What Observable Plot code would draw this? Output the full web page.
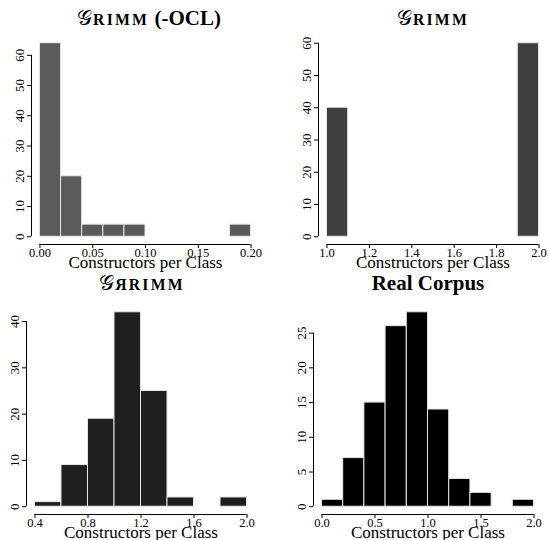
<!DOCTYPE html>
<html>
<head>
<meta charset="utf-8">
<script src="https://cdn.jsdelivr.net/npm/d3@7"></script>
<script src="https://cdn.jsdelivr.net/npm/@observablehq/plot@0.6"></script>
<style>
  body { margin: 0; background: #fff; }
  #root { position: relative; width: 549px; height: 540px; overflow: hidden; font-family: "Liberation Serif", "Times New Roman", serif; }
  .panel { position: absolute; width: 274px; height: 270px; }
  .panel svg, .panel svg text { font-family: "Liberation Serif", "Times New Roman", serif !important; }
  .title { position: absolute; width: 300px; text-align: center; font-family: "Liberation Serif", serif; font-weight: bold; font-size: 21px; white-space: nowrap; line-height: 1; color: #000; }
  .sc { font-size: 0.75em; letter-spacing: 2.2px; }
  .g { font-weight: normal; font-style: normal; margin-right: 1px; }
</style>
</head>
<body>
<div id="root"></div>
<script>
// ---- data ----
const xLabel = "Constructors per Class";

const titles = ["𝒢RIMM (-OCL)", "𝒢RIMM", "𝒢ЯRIMM", "Real Corpus"];

// panel 1: GRIMM (-OCL)
const p1BinStart = [0.00, 0.02, 0.04, 0.06, 0.08, 0.10, 0.12, 0.14, 0.16, 0.18];
const p1Counts   = [64, 20, 4, 4, 4, 0, 0, 0, 0, 4];
const p1BinWidth = 0.02;
const p1YTicks = [0, 10, 20, 30, 40, 50, 60];
const p1XTicks = [0.00, 0.05, 0.10, 0.15, 0.20];
const p1XTickLabels = ["0.00", "0.05", "0.10", "0.15", "0.20"];

// panel 2: GRIMM
const p2BinStart = [1.0, 1.1, 1.2, 1.3, 1.4, 1.5, 1.6, 1.7, 1.8, 1.9];
const p2Counts   = [40, 0, 0, 0, 0, 0, 0, 0, 0, 60];
const p2BinWidth = 0.1;
const p2YTicks = [0, 10, 20, 30, 40, 50, 60];
const p2XTicks = [1.0, 1.2, 1.4, 1.6, 1.8, 2.0];
const p2XTickLabels = ["1.0", "1.2", "1.4", "1.6", "1.8", "2.0"];

// panel 3: GЯRIMM
const p3BinStart = [0.4, 0.6, 0.8, 1.0, 1.2, 1.4, 1.6, 1.8];
const p3Counts   = [1, 9, 19, 42, 25, 2, 0, 2];
const p3BinWidth = 0.2;
const p3YTicks = [0, 10, 20, 30, 40];
const p3XTicks = [0.4, 0.8, 1.2, 1.6, 2.0];
const p3XTickLabels = ["0.4", "0.8", "1.2", "1.6", "2.0"];

// panel 4: Real Corpus
const p4BinStart = [0.0, 0.2, 0.4, 0.6, 0.8, 1.0, 1.2, 1.4, 1.6, 1.8];
const p4Counts   = [1, 7, 15, 26, 28, 14, 4, 2, 0, 1];
const p4BinWidth = 0.2;
const p4YTicks = [0, 5, 10, 15, 20, 25];
const p4XTicks = [0.0, 0.5, 1.0, 1.5, 2.0];
const p4XTickLabels = ["0.0", "0.5", "1.0", "1.5", "2.0"];

// ---- layout/styles ----
const panels = [
  {left: 0,   top: 0,   ml: 31, mr: 15, mt: 35, mb: 26, fill: "#5a5a5a", titleHtml: '<span class="g">𝒢</span><span class="sc">RIMM</span> (-OCL)', tx: 149, ty: 7.5,
   bins: p1BinStart, counts: p1Counts, bw: p1BinWidth, yt: p1YTicks, xt: p1XTicks, xl: p1XTickLabels},
  {left: 275, top: 0,   ml: 43, mr: 2,  mt: 35, mb: 26, fill: "#3f3f3f", titleHtml: '<span class="g">𝒢</span><span class="sc">RIMM</span>', tx: 433, ty: 7.5,
   bins: p2BinStart, counts: p2Counts, bw: p2BinWidth, yt: p2YTicks, xt: p2XTicks, xl: p2XTickLabels},
  {left: 0,   top: 270, ml: 26, mr: 19, mt: 34, mb: 26, fill: "#1f1f1f", titleHtml: '<span class="g">𝒢</span><span class="sc">ЯRIMM</span>', tx: 142, ty: 273,
   bins: p3BinStart, counts: p3Counts, bw: p3BinWidth, yt: p3YTicks, xt: p3XTicks, xl: p3XTickLabels},
  {left: 275, top: 270, ml: 38, mr: 7,  mt: 34, mb: 26, fill: "#000000", titleHtml: 'Real Corpus', tx: 428, ty: 273,
   bins: p4BinStart, counts: p4Counts, bw: p4BinWidth, yt: p4YTicks, xt: p4XTicks, xl: p4XTickLabels}
];

const root = document.getElementById("root");
const W = 274, H = 270;
const FONT = "Liberation Serif";

panels.forEach((p, i) => {
  const rows = p.bins.map((b, k) => ({x1: b, x2: +(b + p.bw).toFixed(6), y: p.counts[k]})).filter(r => r.y > 0);
  const xmin = p.bins[0], xmax = +(p.bins[p.bins.length - 1] + p.bw).toFixed(6);
  const ymax = d3.max(p.counts);
  const xr = xmax - xmin;
  const xlo = xmin - 0.04 * xr, xhi = xmax + 0.04 * xr;
  const ylo = -0.04 * ymax, yhi = 1.04 * ymax;
  const plotW = W - p.ml - p.mr, plotH = H - p.mt - p.mb;
  const xpx = (xhi - xlo) / plotW; // data units per px
  const ypx = (yhi - ylo) / plotH;
  const tick = 4;

  const chart = Plot.plot({
    width: W, height: H,
    marginLeft: p.ml, marginRight: p.mr, marginTop: p.mt, marginBottom: p.mb,
    style: "font-family: 'Liberation Serif', serif; background: transparent; overflow: visible;",
    x: {domain: [xlo, xhi], axis: null},
    y: {domain: [ylo, yhi], axis: null},
    marks: [
      Plot.rectY(rows, {x1: "x1", x2: "x2", y1: 0, y2: "y", fill: p.fill, stroke: "#e6e6e6", strokeWidth: 1}),
      // y axis
      Plot.ruleX([xlo], {y1: p.yt[0], y2: p.yt[p.yt.length - 1], stroke: "#000", strokeWidth: 1}),
      Plot.ruleY(p.yt, {y: d => d, x1: xlo - tick * xpx, x2: xlo, stroke: "#000", strokeWidth: 1}),
      Plot.text(p.yt, {x: () => xlo, y: d => d, text: d => String(d), rotate: -90, dx: -7.5, textAnchor: "middle", lineAnchor: "bottom", fontSize: 13, fontFamily: FONT, fill: "#000"}),
      // x axis
      Plot.ruleY([ylo], {x1: p.xt[0], x2: p.xt[p.xt.length - 1], stroke: "#000", strokeWidth: 1}),
      Plot.ruleX(p.xt, {x: d => d, y1: ylo, y2: ylo - tick * ypx, stroke: "#000", strokeWidth: 1}),
      Plot.text(p.xt, {x: d => d, y: () => ylo, text: (d, k) => p.xl[k], dy: 12, lineAnchor: "bottom", fontSize: 12.5, fontFamily: FONT, fill: "#000"}),
      Plot.text([xLabel], {frameAnchor: "bottom", text: d => d, dy: 23, lineAnchor: "bottom", fontSize: 17, fontFamily: FONT, fill: "#000"})
    ]
  });
  const div = document.createElement("div");
  div.className = "panel";
  div.style.left = p.left + "px";
  div.style.top = p.top + "px";
  div.appendChild(chart);
  root.appendChild(div);

  const t = document.createElement("div");
  t.className = "title";
  t.style.left = (p.tx - 150) + "px";
  t.style.top = p.ty + "px";
  t.innerHTML = p.titleHtml;
  root.appendChild(t);
});
</script>
</body>
</html>
